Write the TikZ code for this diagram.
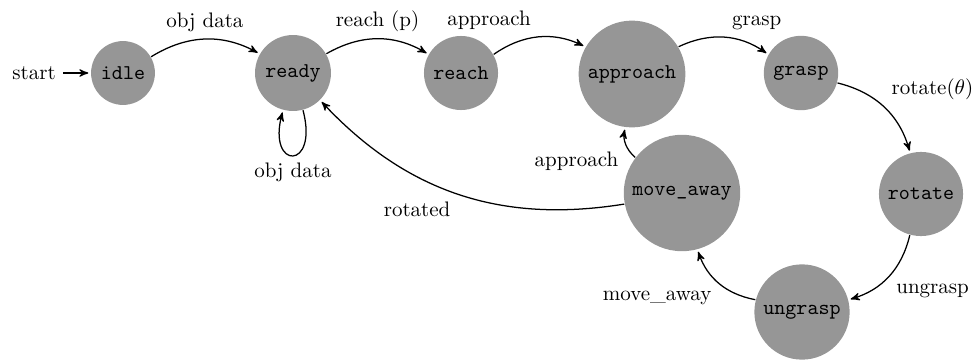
\documentclass[tikz,border=0pt]{standalone}
\usetikzlibrary{automata,arrows}
\begin{document}
\begin{tikzpicture}[x=0.47619pt,y=-0.47619pt,
  ->,>=stealth',shorten >=1pt,auto,semithick,
  every state/.style={fill=black!41,draw=none,font=\ttfamily,text=black}]
\useasboundingbox (0,0) rectangle (976,360);

% states
\node[state,initial,initial text=start] (idle) at (123,73) {idle};
\node[state] (ready)    at (293,73)  {ready};
\node[state] (reach)    at (461,73)  {reach};
\node[state] (approach) at (632,74)  {approach};
\node[state] (grasp)    at (801,73)  {grasp};
\node[state] (moveaway) at (682,193) {move\_away};
\node[state] (rotate)   at (921,194) {rotate};
\node[state] (ungrasp)  at (802,312) {ungrasp};

% transitions
\path (idle)     edge[bend left]    node {obj data} (ready)
      (ready)    edge[bend left]    node {reach (p)} (reach)
                 edge[loop below]   node {obj data} ()
      (reach)    edge[bend left]    node {approach} (approach)
      (approach) edge[bend left]    node {grasp} (grasp)
      (grasp)    edge[bend left]    node {rotate($\theta$)} (rotate)
      (rotate)   edge[bend left]    node {ungrasp} (ungrasp)
      (ungrasp)  edge[bend left]    node {move\_away} (moveaway)
      (moveaway) edge[bend left]    node {approach} (approach)
                 edge[bend left=28] node {rotated} (ready);
\end{tikzpicture}
\end{document}
